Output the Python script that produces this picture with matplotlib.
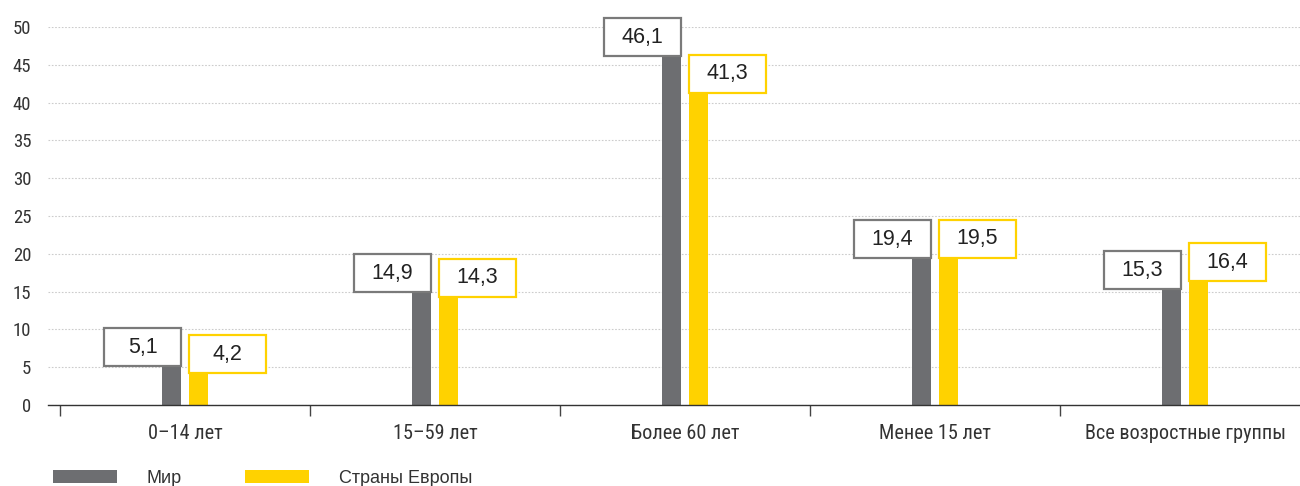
import matplotlib.pyplot as plt
import numpy as np
from matplotlib.patches import Rectangle

categories = ['0–14 лет', '15–59 лет', 'Более 60 лет', 'Менее 15 лет', 'Все возростные группы']
world = [5.1, 14.9, 46.1, 19.4, 15.3]
europe = [4.2, 14.3, 41.3, 19.5, 16.4]
series_names = ['Мир', 'Страны Европы']

gray = '#6d6e71'
yellow = '#ffd200'
narrow = ['Roboto Condensed', 'Liberation Sans Narrow', 'Liberation Sans', 'DejaVu Sans']

fig = plt.figure(figsize=(13, 4.86), dpi=100)
ax = fig.add_axes([48 / 1300, 81 / 486, 1252 / 1300, 378 / 486])

x = np.arange(len(categories))
w = 0.076
off = 0.054
ax.bar(x - off, world, w, color=gray, zorder=2)
ax.bar(x + off, europe, w, color=yellow, zorder=2)

# value boxes sit on top of each bar
bw, bh = 0.308, 5.03
for xi, v in zip(x, world):
    right = xi - off + w / 2
    ax.add_patch(Rectangle((right - bw, v), bw, bh, facecolor='white',
                           edgecolor='#7a7a7a', lw=1.6, zorder=3, clip_on=False))
    ax.text(right - bw / 2, v + bh / 2, f'{v:.1f}'.replace('.', ','), ha='center',
            va='center', fontsize=15.5, family='Liberation Sans', color='#222222', zorder=4)
for xi, v in zip(x, europe):
    left = xi + off - w / 2
    ax.add_patch(Rectangle((left, v), bw, bh, facecolor='white',
                           edgecolor=yellow, lw=1.6, zorder=3, clip_on=False))
    ax.text(left + bw / 2, v + bh / 2, f'{v:.1f}'.replace('.', ','), ha='center',
            va='center', fontsize=15.5, family='Liberation Sans', color='#222222', zorder=4)

ax.set_yticks(np.arange(0, 51, 5))
ax.set_yticklabels([str(t) for t in range(0, 51, 5)], family=narrow, fontsize=13.5, color='#333333')
ax.tick_params(axis='y', length=0, pad=12)
ax.yaxis.grid(True, ls=(0, (1.5, 1.5)), color='#cccccc', lw=0.8)
ax.set_axisbelow(True)

# group separators as ticks, labels centered between them
ax.set_xticks(np.arange(-0.5, len(categories) - 0.4, 1.0))
ax.set_xticklabels([])
ax.set_xticks(x, minor=True)
ax.set_xticklabels(categories, minor=True, family=narrow, fontsize=14.6, color='#333333')
ax.tick_params(axis='x', which='major', length=8, width=1, color='#444444', direction='out')
ax.tick_params(axis='x', which='minor', length=0, pad=14)

ax.set_xlim(-0.548, 4.46)
ax.set_ylim(0, 50)

for s in ['top', 'right', 'left']:
    ax.spines[s].set_visible(False)
ax.spines['bottom'].set_color('#333333')
ax.spines['bottom'].set_linewidth(1)

# legend along the bottom edge
for (x0, col), name in zip([(53, gray), (245, yellow)], series_names):
    fig.patches.append(Rectangle((x0 / 1300, 3 / 486), 64 / 1300, 13 / 486,
                                 transform=fig.transFigure, facecolor=col, edgecolor='none'))
    fig.text((x0 + 94) / 1300, 3 / 486, name, fontsize=13, family='Liberation Sans',
             color='#333333', va='baseline')

fig.savefig('out.png', dpi=100)
